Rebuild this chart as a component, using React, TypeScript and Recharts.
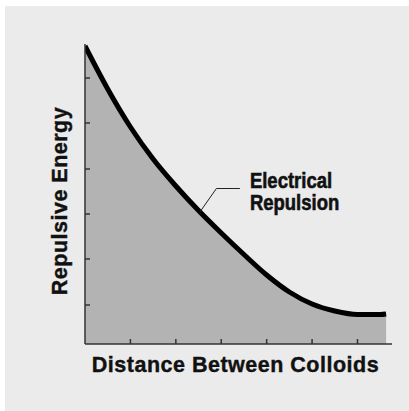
import React from "react";
import { AreaChart, Area, XAxis, YAxis, ReferenceDot, Label } from "recharts";

const distance = [0, 0.5, 1, 1.5, 2, 2.5, 3, 3.5, 4, 4.5, 5, 5.5, 6, 6.5, 6.63];
const energy = [298, 255, 217, 185, 158, 133.5, 111, 89.5, 69, 52, 40, 33, 29.5, 29.5, 30];
const xTicks = [1, 2, 3, 4, 5, 6];
const yTicks = [39, 85, 130, 175, 221, 266];
const xLabel = "Distance Between Colloids";
const yLabel = "Repulsive Energy";
const annotationLines = ["Electrical", "Repulsion"];
const annotationAt = { x: 2.53, y: 132 };

const data = distance.map((d, i) => ({ d, e: energy[i] }));

const boldFont = "'Liberation Sans', Arial, Helvetica, sans-serif";

const EmptyTick = () => <g />;

const AnnotationShape = (props: any) => {
  const { cx, cy } = props;
  if (cx == null || cy == null) return null;
  const tx = cx + 50;
  return (
    <g>
      <polyline
        points={`${cx},${cy} ${cx + 16.5},${cy - 23.5} ${cx + 40},${cy - 23.5}`}
        fill="none"
        stroke="#222"
        strokeWidth={1}
      />
      {annotationLines.map((t, i) => (
        <text
          key={t}
          x={tx}
          y={cy - 24 + i * 22}
          transform={`translate(${tx},0) scale(0.86,1) translate(${-tx},0)`}
          fontFamily={boldFont}
          fontWeight="bold"
          fontSize={21.5}
          fill="#111"
          stroke="#111"
          strokeWidth={0.6}
        >
          {t}
        </text>
      ))}
    </g>
  );
};

export default function App() {
  return (
    <div style={{ position: "absolute", left: 0, top: 0, width: 409, height: 411, background: "#ffffff" }}>
      <div style={{ position: "absolute", left: 5, top: 6, width: 404, height: 405, background: "#ebebeb" }} />
      <div style={{ position: "absolute", left: 0, top: 0 }}>
        <AreaChart width={409} height={411} data={data} margin={{ top: 44, right: 17, left: 0, bottom: 0 }}>
          <XAxis
            dataKey="d"
            type="number"
            domain={[0, 6.76]}
            ticks={xTicks}
            allowDataOverflow
            height={67}
            tick={EmptyTick}
            tickSize={-5}
            axisLine={{ stroke: "#333", strokeWidth: 1.5 }}
            tickLine={{ stroke: "#333", strokeWidth: 1.5 }}
          >
            <Label
              content={(p: any) => {
                const vb = p.viewBox || {};
                return (
                  <text
                    x={vb.x + vb.width / 2 - 3}
                    y={vb.y + 28}
                    textAnchor="middle"
                    fontFamily={boldFont}
                    fontWeight="bold"
                    fontSize={21.5}
                    letterSpacing={0.5}
                    fill="#111"
                    stroke="#111"
                    strokeWidth={0.4}
                  >
                    {xLabel}
                  </text>
                );
              }}
            />
          </XAxis>
          <YAxis
            type="number"
            domain={[0, 300]}
            ticks={yTicks}
            allowDataOverflow
            width={85}
            tick={EmptyTick}
            tickSize={-5}
            axisLine={{ stroke: "#333", strokeWidth: 1.5 }}
            tickLine={{ stroke: "#333", strokeWidth: 1.5 }}
          >
            <Label
              content={(p: any) => {
                const vb = p.viewBox || {};
                const cy = vb.y + vb.height / 2 + 7;
                return (
                  <text
                    x={67}
                    y={cy}
                    transform={`rotate(-90, 67, ${cy})`}
                    textAnchor="middle"
                    fontFamily={boldFont}
                    fontWeight="bold"
                    fontSize={21.5}
                    letterSpacing={0.5}
                    fill="#111"
                    stroke="#111"
                    strokeWidth={0.4}
                  >
                    {yLabel}
                  </text>
                );
              }}
            />
          </YAxis>
          <Area
            dataKey="e"
            type="monotone"
            fill="#b3b3b3"
            fillOpacity={1}
            stroke="#000"
            strokeWidth={5}
            isAnimationActive={false}
            dot={false}
            activeDot={false}
          />
          <ReferenceDot x={annotationAt.x} y={annotationAt.y} r={0} shape={AnnotationShape} />
        </AreaChart>
      </div>
    </div>
  );
}
